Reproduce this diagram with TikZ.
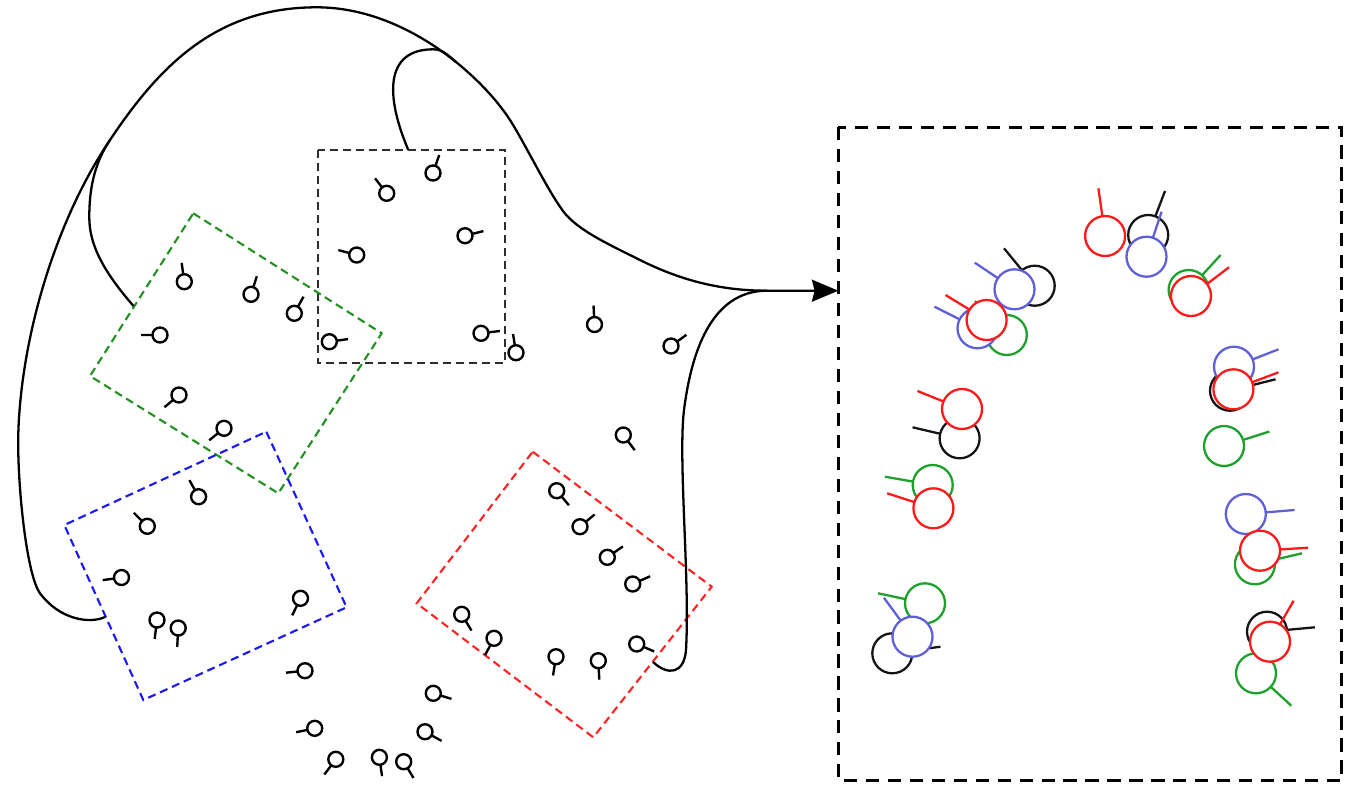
\documentclass[tikz,border=0pt]{standalone}
\usetikzlibrary{arrows.meta}
\definecolor{bxgreen}{RGB}{34,145,34}
\definecolor{bxblue}{RGB}{25,25,245}
\definecolor{bxred}{RGB}{255,35,35}
\definecolor{bxblack}{RGB}{45,45,45}
\definecolor{cred}{RGB}{255,25,25}
\definecolor{cblue}{RGB}{95,95,215}
\definecolor{cgreen}{RGB}{30,160,45}
\definecolor{cblack}{RGB}{20,20,20}
\tikzset{
  lbox/.style={line width=1.2pt, dash pattern=on 4.6pt off 2.8pt},
  rbox/.style={line width=1.9pt, dash pattern=on 7.5pt off 5pt},
  curve/.style={line width=1.3pt},
  flow/.style={curve, -{Stealth[length=15pt,width=12.5pt,inset=1.5pt]}},
  mkline/.style={line width=1.35pt},
  bigline/.style={line width=1.3pt}
}
\newcommand\mk[3]{\draw[mkline,shift={(#1,#2)}] (0,0) circle[radius=7.5] (#3:7.5) -- (#3:19);}
\newcommand\bmk[5]{\draw[bigline,#1] (#2,#3) -- (#4,#5); \filldraw[bigline,draw=#1,fill=white] (#2,#3) circle[radius=20];}
\begin{document}
\begin{tikzpicture}[x=0.02cm,y=-0.02cm]
\useasboundingbox (0,0) rectangle (1358,785);
% boxes
\coordinate (k1) at (318.3,150); \coordinate (k2) at (505,363.3);
\coordinate (g1) at (193.3,213.3); \coordinate (g2) at (381.7,333.3);
\coordinate (g3) at (278.3,493.3); \coordinate (g4) at (90,376);
\coordinate (b1) at (266.3,431.7); \coordinate (b2) at (346.6,607.3);
\coordinate (b3) at (143.3,700); \coordinate (b4) at (64.3,525);
\coordinate (r1) at (532.7,451.7); \coordinate (r2) at (711.7,586.7);
\coordinate (r3) at (593.3,737.3); \coordinate (r4) at (416.7,603.3);
\coordinate (R1) at (838.4,127.3); \coordinate (R2) at (1341.8,780.7);
\draw[lbox,bxblack] (k1) rectangle (k2);
\draw[lbox,bxgreen] (g1) -- (g2) -- (g3) -- (g4) -- cycle;
\draw[lbox,bxblue] (b1) -- (b2) -- (b3) -- (b4) -- cycle;
\draw[lbox,bxred] (r1) -- (r2) -- (r3) -- (r4) -- cycle;
\draw[rbox,black] (R1) rectangle (R2);
% connectors
\coordinate (tgt) at (838.3,290.7);
\coordinate (sB) at (105,617);
\coordinate (sG) at (133.5,306);
\coordinate (sK) at (408.3,150);
\coordinate (sR) at (653,662);
\coordinate (mG) at (110,140);
\coordinate (mK) at (456.3,62.2);
\coordinate (mR) at (767,290.7);
\draw[flow] (sB) .. controls (90,624) and (60,620) .. (40,593.3)
  .. controls (26,574) and (17,480) .. (18.3,433.3)
  .. controls (21,340) and (54,223) .. (mG)
  .. controls (160,65) and (217,7.3) .. (316.7,7.3)
  .. controls (406.7,7.3) and (483,78) .. (510,120)
  .. controls (524,142) and (545,185) .. (560,206.7)
  .. controls (573,228) and (604,242) .. (640,260)
  .. controls (680,280) and (720,290.7) .. (mR) -- (tgt);
\draw[curve] (sG) .. controls (104,272) and (89,245) .. (89.3,216.7)
  .. controls (89.3,191.7) and (93.2,164.9) .. (mG);
\draw[curve] (sK) .. controls (385,95) and (385,49.3) .. (433.3,49.3)
  .. controls (443,49.3) and (448.5,55.9) .. (mK);
\draw[curve] (sR) .. controls (668,676) and (684,674) .. (686,650)
  .. controls (690,580) and (678,459.5) .. (684,410)
  .. controls (691,355) and (710,290.7) .. (mR);
% small markers
\mk{433}{173}{-71} \mk{386.7}{193.3}{-128} \mk{465}{235.7}{-14}
\mk{356.7}{255}{-165} \mk{329.3}{341.7}{-8} \mk{481}{333.3}{-7}
\mk{516}{352.7}{-99}
\mk{184.3}{281.7}{-98} \mk{251}{294.3}{-72} \mk{294.3}{313.3}{-61}
\mk{160}{335}{180} \mk{179}{395}{140} \mk{224}{428.3}{141}
\mk{198.6}{496.7}{-119} \mk{147.3}{526.3}{-135} \mk{121.5}{577.5}{172}
\mk{157}{620}{97} \mk{178.2}{628}{93} \mk{300.5}{598.3}{116}
\mk{594.5}{324.5}{-93} \mk{671}{346}{-36} \mk{623.3}{435}{53}
\mk{556.7}{490.7}{50} \mk{580}{526.7}{-40} \mk{607.3}{557.3}{-35}
\mk{632.7}{584}{-24} \mk{461.7}{614.3}{59} \mk{494}{638.3}{118}
\mk{556}{656.7}{99} \mk{598.3}{660.7}{87} \mk{636.7}{644}{23}
\mk{433.3}{693.3}{17} \mk{425}{731.7}{29}
\mk{305}{670.7}{174} \mk{314.7}{728.3}{168} \mk{335.8}{759.3}{127}
\mk{379.4}{757.3}{82} \mk{403.7}{761.7}{59}
% big markers: black
\bmk{cblack}{1148.2}{235}{1165}{191}
\bmk{cblack}{1034.7}{285.7}{1004}{248.3}
\bmk{cblack}{959.6}{438.3}{912.5}{427.3}
\bmk{cblack}{1230}{390.7}{1275.5}{379.3}
\bmk{cblack}{892.3}{653.3}{940.4}{646.7}
\bmk{cblack}{1267}{631.7}{1314.8}{627.3}
% green
\bmk{cgreen}{1188.6}{290}{1220.6}{255}
\bmk{cgreen}{1006.8}{335}{975}{301}
\bmk{cgreen}{1224}{446}{1269.4}{431.5}
\bmk{cgreen}{932.7}{485}{884.9}{476.7}
\bmk{cgreen}{1254.9}{564.3}{1302}{553.3}
\bmk{cgreen}{925}{603.3}{878.1}{593.3}
\bmk{cgreen}{1256}{673.3}{1291.3}{705.7}
% blue
\bmk{cblue}{1146.5}{256.7}{1161.6}{211.7}
\bmk{cblue}{1014.5}{289.3}{974.8}{262.7}
\bmk{cblue}{977.5}{328.3}{934.4}{306.7}
\bmk{cblue}{1234}{366.7}{1278.5}{349.3}
\bmk{cblue}{1245.8}{514}{1294.6}{510}
\bmk{cblue}{912.5}{636.7}{883.9}{597.7}
% red
\bmk{cred}{1105.1}{236}{1098.4}{188.3}
\bmk{cred}{1191}{296}{1229}{267.3}
\bmk{cred}{986.6}{320}{945.5}{295}
\bmk{cred}{962}{409}{917.5}{391}
\bmk{cred}{1233.4}{389.3}{1278.5}{372.3}
\bmk{cred}{933.4}{508.3}{887.2}{493.3}
\bmk{cred}{1260}{550.7}{1308}{547.7}
\bmk{cred}{1270}{641.7}{1293.6}{600.7}
\end{tikzpicture}
\end{document}
